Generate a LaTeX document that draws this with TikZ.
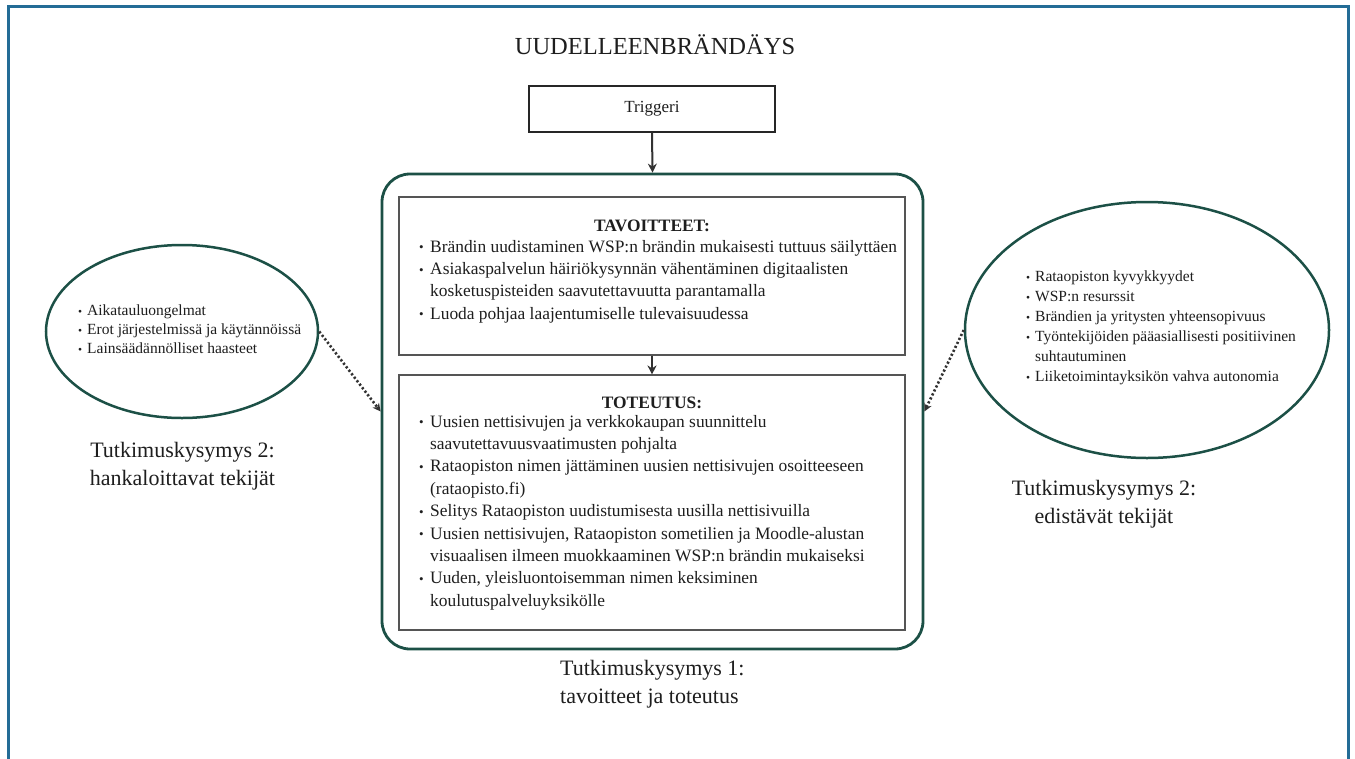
\documentclass[tikz,border=0pt]{standalone}
\usepackage{fontspec}
\setmainfont{Liberation Serif}
\usetikzlibrary{arrows.meta,shapes.geometric}
\definecolor{frameblue}{RGB}{35,108,150}
\definecolor{tealgreen}{RGB}{28,80,70}
\definecolor{boxgray}{RGB}{85,85,85}
\definecolor{arrowgray}{RGB}{50,50,50}
\definecolor{textdark}{RGB}{30,30,30}
\newcommand{\bl}{\makebox[11pt][l]{\raisebox{0.05ex}{\fontsize{13}{13}\selectfont\textbullet}}}
\newcommand{\ind}{\hspace*{11pt}}
\newcommand{\sbl}{\makebox[9pt][l]{\raisebox{0.05ex}{\fontsize{11.5}{11.5}\selectfont\textbullet}}}
\newcommand{\sind}{\hspace*{9pt}}
\begin{document}
\begin{tikzpicture}[x=1pt,y=-1pt,
  frameline/.style={draw=frameblue, line width=3pt},
  bigbox/.style={draw=tealgreen, line width=2.8pt, rounded corners=28pt, minimum width=541pt, minimum height=475pt, inner sep=0pt},
  innerbox/.style={draw=boxgray, line width=1.1pt, minimum width=506pt, inner sep=0pt},
  triggerbox/.style={draw=black!85, line width=1.1pt, minimum width=246pt, minimum height=46pt, inner sep=0pt, text=textdark, font=\fontsize{17}{20}\selectfont},
  oval/.style={ellipse, draw=tealgreen, line width=2.5pt, inner sep=0pt},
  flow/.style={draw=arrowgray, line width=2pt, -{Stealth[length=9pt,width=9pt]}},
  influence/.style={draw=arrowgray, line width=2.6pt, dash pattern=on 2.2pt off 2.2pt, -{Stealth[length=8pt,width=8pt]}},
  bodytext/.style={inner sep=0pt, anchor=north west, align=left, text=textdark, font=\fontsize{17.4}{22.4}\selectfont},
  ovaltextL/.style={inner sep=0pt, anchor=north west, align=left, text=textdark, font=\fontsize{15.5}{19}\selectfont},
  ovaltextR/.style={inner sep=0pt, anchor=north west, align=left, text=textdark, font=\fontsize{15.5}{20}\selectfont},
  heading/.style={inner sep=0pt, anchor=base, text=textdark, font=\fontsize{17.4}{22}\selectfont\bfseries},
  qlabel/.style={inner sep=0pt, text=textdark, font=\fontsize{22}{28}\selectfont}
]
\useasboundingbox (0,0) rectangle (1355,758);
\fill[white] (0,0) rectangle (1355,758);
\draw[frameline] (8,760) -- (8,6.5) -- (1348,6.5) -- (1348,760);

\node[inner sep=0pt, anchor=base, text=textdark, font=\fontsize{24.5}{28}\selectfont] (title) at (655,54) {UUDELLEENBRÄNDÄYS};

\node[triggerbox] (trigger) at (652,109) {Triggeri};

\node[bigbox] (main) at (652.5,411.5) {};
\node[innerbox, minimum height=158pt] (goals) at (652,276) {};
\node[innerbox, minimum height=255pt] (impl) at (652,502.5) {};

\node[heading] (goalshead) at (652,231) {TAVOITTEET:};
\node[bodytext] (goalslist) at (419,236.3) {\strut\bl Brändin uudistaminen WSP:n brändin mukaisesti tuttuus säilyttäen\\
\bl Asiakaspalvelun häiriökysynnän vähentäminen digitaalisten\\
\ind kosketuspisteiden saavutettavuutta parantamalla\\
\bl Luoda pohjaa laajentumiselle tulevaisuudessa};

\node[heading] (implhead) at (652,408) {TOTEUTUS:};
\node[bodytext] (impllist) at (419,411.3) {\strut\bl Uusien nettisivujen ja verkkokaupan suunnittelu\\
\ind saavutettavuusvaatimusten pohjalta\\
\bl Rataopiston nimen jättäminen uusien nettisivujen osoitteeseen\\
\ind (rataopisto.fi)\\
\bl Selitys Rataopiston uudistumisesta uusilla nettisivuilla\\
\bl Uusien nettisivujen, Rataopiston sometilien ja Moodle-alustan\\
\ind visuaalisen ilmeen muokkaaminen WSP:n brändin mukaiseksi\\
\bl Uuden, yleisluontoisemman nimen keksiminen\\
\ind koulutuspalveluyksikölle};

\node[oval, minimum width=272pt, minimum height=173pt] (hinder) at (182,331.5) {};
\node[ovaltextL] (hindertext) at (78,302.2) {\strut\sbl Aikatauluongelmat\\
\sbl Erot järjestelmissä ja käytännöissä\\
\sbl Lainsäädännölliset haasteet};

\node[oval, minimum width=364pt, minimum height=256pt] (promote) at (1147,330) {};
\node[ovaltextR] (promotetext) at (1026,267.5) {\strut\sbl Rataopiston kyvykkyydet\\
\sbl WSP:n resurssit\\
\sbl Brändien ja yritysten yhteensopivuus\\
\sbl Työntekijöiden pääasiallisesti positiivinen\\
\sind suhtautuminen\\
\sbl Liiketoimintayksikön vahva autonomia};

\node[qlabel, anchor=north, align=center] (hinderlabel) at (182.5,437.4) {\strut Tutkimuskysymys 2:\\ hankaloittavat tekijät};
\node[qlabel, anchor=north west, align=left] (mainlabel) at (560,655.4) {\strut Tutkimuskysymys 1:\\ tavoitteet ja toteutus};
\node[qlabel, anchor=north, align=center] (promotelabel) at (1104,475.4) {\strut Tutkimuskysymys 2:\\ edistävät tekijät};

\draw[flow] (trigger.south) -- (main.north);
\draw[flow] (goals.south) -- (impl.north);
\draw[influence] (hinder.east) -- (main.west);
\draw[influence] (promote.west) -- (main.east);
\end{tikzpicture}
\end{document}
